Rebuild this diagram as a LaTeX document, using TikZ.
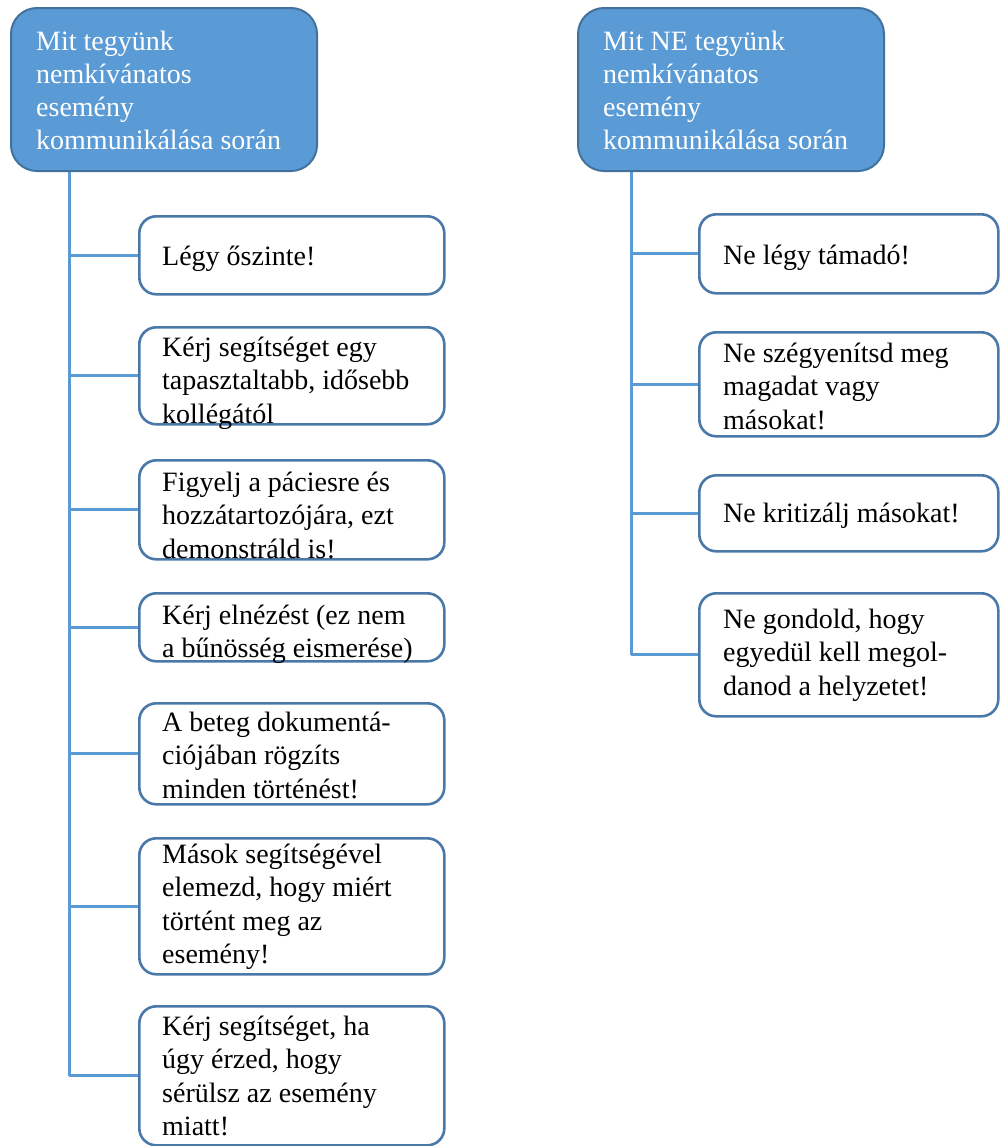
\documentclass[tikz,border=0pt]{standalone}
\usepackage{fontspec}
\setmainfont{Liberation Serif}
\usetikzlibrary{backgrounds}
\definecolor{hdrfill}{HTML}{5B9BD5}
\definecolor{hdrline}{HTML}{41719C}
\definecolor{boxline}{HTML}{4A78A8}
\definecolor{linkcol}{HTML}{5B9BD5}
\begin{document}
\begin{tikzpicture}[x=1pt,y=-1pt,
  header/.style={draw=hdrline, line width=2pt, fill=hdrfill,
    rounded corners=26pt, anchor=north west, inner sep=0pt},
  item/.style={draw=boxline, line width=2.6pt, fill=white,
    rounded corners=17pt, anchor=north west, inner sep=0pt},
  sz/.style 2 args={minimum width=#1pt, minimum height=#2pt},
  txt/.style={anchor=north west, inner sep=0pt, align=left,
    font=\fontsize{28}{33.5}\selectfont},
  hdrtxt/.style={txt, text=white, font=\fontsize{28}{33}\selectfont},
  conn/.style={draw=linkcol, line width=3pt}]
\useasboundingbox (0,0) rectangle (1000,1146);
\newcommand{\fl}{\rule{0pt}{22pt}}

% headers
\node[header, sz={306}{163}] (lh) at (10,7)  {};
\node[header, sz={306}{163}] (rh) at (577,7) {};
\node[hdrtxt] (lht) at (36,28)  {\fl Mit tegyünk\\nemkívánatos\\esemény\\kommunikálása során};
\node[hdrtxt] (rht) at (603,28) {\fl Mit NE tegyünk\\nemkívánatos\\esemény\\kommunikálása során};

% spine starts on the bottom edge of each header
\coordinate (lsTop) at (69,170);
\coordinate (rsTop) at (631,170);

% left column boxes
\node[item, sz={305}{78}]  (l1) at (138,215)  {};
\node[item, sz={305}{97}]  (l2) at (138,326)  {};
\node[item, sz={305}{99}]  (l3) at (138,459)  {};
\node[item, sz={305}{68}]  (l4) at (138,592)  {};
\node[item, sz={305}{101}] (l5) at (138,702)  {};
\node[item, sz={305}{136}] (l6) at (138,837)  {};
\node[item, sz={305}{139}] (l7) at (138,1005) {};

% right column boxes
\node[item, sz={299}{79}]  (r1) at (698,213) {};
\node[item, sz={299}{104}] (r2) at (698,331) {};
\node[item, sz={299}{76}]  (r3) at (698,474) {};
\node[item, sz={299}{123}] (r4) at (698,592) {};

% connectors, drawn behind the boxes
\begin{pgfonlayer}{background}
\draw[conn] (lsTop) -- (lsTop |- l7.west);
\foreach \b in {l1,l2,l3,l4,l5,l6,l7}
  \draw[conn] (lsTop |- \b.west) -- (\b.west);
\draw[conn] (rsTop) -- (rsTop |- r4.west);
\foreach \b in {r1,r2,r3,r4}
  \draw[conn] (rsTop |- \b.west) -- (\b.west);
\end{pgfonlayer}

% left column texts
\node[txt] (l1t) at (162,243)  {\fl Légy őszinte!};
\node[txt] (l2t) at (162,334)  {\fl Kérj segítséget egy\\tapasztaltabb, idősebb\\kollégától};
\node[txt] (l3t) at (162,469)  {\fl Figyelj a páciesre és\\hozzátartozójára, ezt\\demonstráld is!};
\node[txt] (l4t) at (162,602)  {\fl Kérj elnézést (ez nem\\a bűnösség eismerése)};
\node[txt] (l5t) at (162,709)  {\fl A beteg dokumentá-\\ciójában rögzíts\\minden történést!};
\node[txt] (l6t) at (162,841)  {\fl Mások segítségével\\elemezd, hogy miért\\történt meg az\\esemény!};
\node[txt] (l7t) at (162,1013) {\fl Kérj segítséget, ha\\úgy érzed, hogy\\sérülsz az esemény\\miatt!};

% right column texts
\node[txt] (r1t) at (723,242) {\fl Ne légy támadó!};
\node[txt] (r2t) at (723,340) {\fl Ne szégyenítsd meg\\magadat vagy\\másokat!};
\node[txt] (r3t) at (723,500) {\fl Ne kritizálj másokat!};
\node[txt] (r4t) at (723,606) {\fl Ne gondold, hogy\\egyedül kell megol-\\danod a helyzetet!};
\end{tikzpicture}
\end{document}
